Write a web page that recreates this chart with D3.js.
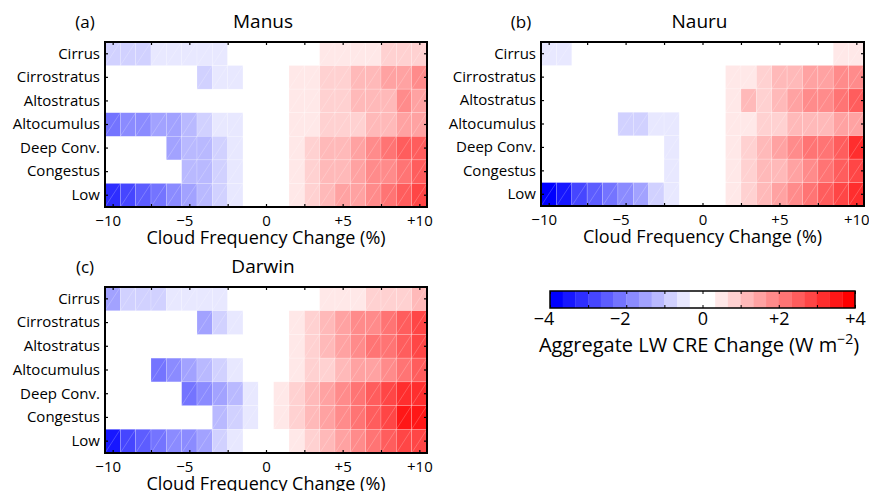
<!DOCTYPE html>
<html>
<head>
<meta charset="utf-8">
<script src="https://cdn.jsdelivr.net/npm/d3@7"></script>
<style>
  body { margin: 0; background: #fff; }
  text { font-family: "Open Sans", sans-serif; fill: #000; }
</style>
</head>
<body>
<div id="chart"></div>
<script>
'use strict';

// categories
const cloudTypes = ["Cirrus", "Cirrostratus", "Altostratus", "Altocumulus", "Deep Conv.", "Congestus", "Low"];
const freqChange = [-10, -9, -8, -7, -6, -5, -4, -3, -2, -1, 0, 1, 2, 3, 4, 5, 6, 7, 8, 9, 10];
const xTickValues = [-10, -7.5, -5, -2.5, 0, 2.5, 5, 7.5, 10];
const xTickLabels = { "-10": "\u221210", "-5": "\u22125", "0": "0", "5": "+5", "10": "+10" };
const cbarTickValues = [-4, -3, -2, -1, 0, 1, 2, 3, 4];
const cbarTickLabels = { "-4": "\u22124", "-2": "\u22122", "0": "0", "2": "+2", "4": "+4" };

// aggregate LW CRE change (W m-2), one row per cloud type, columns = freqChange; null = no data
const manusValues = [
    [-0.8, -0.8, -0.8, -0.5, -0.5, -0.5, -0.5, -0.5, -0.2, -0.1, 0, 0.1, 0.2, 0.2, 0.5, 0.5, 0.5, 0.5, 0.8, 0.8, 0.8],
    [null, null, null, null, null, null, -0.8, -0.5, -0.5, -0.2, 0, 0.2, 0.5, 0.5, 0.8, 0.8, 1.2, 1.2, 1.5, 1.5, 1.8],
    [null, null, null, null, null, null, null, null, null, null, 0.1, 0.2, 0.5, 0.5, 0.8, 0.8, 1.2, 1.2, 1.2, 1.8, 1.5],
    [-2.2, -1.8, -1.8, -1.5, -1.5, -1.2, -0.8, -0.5, -0.5, -0.2, 0, 0.2, 0.5, 0.5, 0.8, 0.8, 0.8, 1.2, 1.2, 1.5, 1.5],
    [null, null, null, null, -1.5, -1.2, -1.2, -0.8, -0.5, -0.2, 0, 0.2, 0.5, 0.8, 1.2, 1.2, 1.5, 1.8, 2.2, 2.5, 2.5],
    [null, null, null, null, null, -1.2, -1.2, -0.8, -0.5, -0.2, 0, 0.2, 0.5, 0.8, 1.2, 1.2, 1.5, 1.8, 1.8, 2.2, 2.5],
    [-3.2, -2.8, -2.5, -2.2, -1.8, -1.5, -1.2, -0.8, -0.5, -0.2, 0, 0.2, 0.5, 0.8, 1.2, 1.5, 1.5, 1.8, 2.2, 2.5, 2.8]
];
const nauruValues = [
    [-0.5, -0.5, null, null, null, null, null, null, -0.1, -0.1, 0, 0.1, 0.1, 0.1, 0.2, 0.2, 0.2, 0.2, 0.2, 0.5, 0.5],
    [null, null, null, null, null, null, null, null, null, -0.1, 0, 0.1, 0.5, 0.5, 0.8, 1.2, 1.2, 1.5, 1.5, 1.8, 1.8],
    [null, null, null, null, null, null, null, null, null, -0.1, 0, 0.1, 0.5, 1.2, 0.8, 1.2, 1.5, 1.8, 1.8, 2.2, 2.5],
    [null, null, null, null, null, -0.8, -0.8, -0.5, -0.5, -0.1, 0, 0.1, 0.5, 0.5, 0.8, 0.8, 1.2, 1.2, 1.2, 1.5, 1.5],
    [null, null, null, null, null, null, null, null, -0.5, -0.1, 0, 0.1, 0.5, 0.8, 1.2, 1.5, 1.8, 2.2, 2.2, 2.5, 3.2],
    [null, null, null, null, null, null, null, null, -0.5, -0.1, 0, 0.1, 0.5, 0.8, 1.2, 1.2, 1.5, 1.8, 2.2, 2.5, 2.8],
    [-3.8, -3.5, -2.8, -2.5, -2.2, -1.8, -1.5, -0.8, -0.5, -0.1, 0, 0.1, 0.5, 0.8, 1.2, 1.5, 1.8, 2.2, 2.5, 2.8, 3.2]
];
const darwinValues = [
    [-1.5, -0.8, -0.8, -0.8, -0.5, -0.5, -0.5, -0.5, -0.1, -0.1, 0, 0.1, 0.1, 0.2, 0.5, 0.5, 0.5, 0.8, 0.8, 0.8, 1.2],
    [null, null, null, null, null, null, -1.5, -0.8, -0.5, -0.1, 0, 0.1, 0.5, 0.8, 1.2, 1.5, 1.8, 1.8, 2.2, 2.5, 2.8],
    [null, null, null, null, null, null, null, null, null, null, 0, 0.1, 0.5, 0.8, 1.2, 1.5, 1.8, 2.2, 2.2, 2.5, 2.8],
    [null, null, null, -2.2, -1.8, -1.5, -1.2, -0.8, -0.5, -0.1, 0, 0.1, 0.5, 0.8, 0.8, 1.2, 1.5, 1.5, 1.8, 2.2, 2.5],
    [null, null, null, null, null, -2.2, -1.8, -1.5, -1.2, -0.5, 0, 0.5, 0.8, 1.2, 1.5, 1.8, 2.2, 2.5, 2.8, 3.2, 3.2],
    [null, null, null, null, null, null, null, -1.2, -0.8, -0.5, 0, 0.5, 0.8, 1.2, 1.5, 1.8, 2.2, 2.5, 2.8, 3.5, 3.5],
    [-3.5, -2.8, -2.5, -2.2, -1.8, -1.8, -1.5, -0.8, -0.5, -0.1, 0, 0.1, 0.5, 0.8, 1.2, 1.5, 1.8, 2.2, 2.5, 2.8, 2.8]
];

const width = 869, height = 491;

// font sizes (px)
const rowFont = 15, tickFont = 15, labelFont = 18, titleFont = 19;

const svg = d3.select("#chart")
    .append("svg")
    .attr("width", width)
    .attr("height", height);

// 24-step blue-white-red colour map from -4 to +4
const cmapColors = [];
for (let j = 0; j < 12; j++) {
    const t = Math.round(255 * j / 11);
    cmapColors.push(d3.rgb(t, t, 255).formatHex());
}
for (let j = 0; j < 12; j++) {
    const t = Math.round(255 * (11 - j) / 11);
    cmapColors.push(d3.rgb(255, t, t).formatHex());
}
const colorScale = d3.scaleQuantize().domain([-4, 4]).range(cmapColors);

// negative labels sit a little left of their tick in the original
const labelShift = v => (v < 0 ? -5 : 0);

function drawPanel(values, box, letter, title) {
    const g = svg.append("g");

    const x = d3.scaleLinear()
        .domain([-10.5, 10.5])
        .range([box.x, box.x + box.w]);
    const y = d3.scaleBand()
        .domain(cloudTypes)
        .range([box.y, box.y + box.h]);

    const cellW = x(1) - x(0);

    // cells
    const cells = [];
    values.forEach((row, r) => row.forEach((v, c) => {
        if (v !== null) cells.push({ type: cloudTypes[r], f: freqChange[c], v: v });
    }));

    g.selectAll(".cell")
        .data(cells)
        .enter()
        .append("rect")
        .attr("class", "cell")
        .attr("x", d => x(d.f - 0.5))
        .attr("y", d => y(d.type))
        .attr("width", cellW)
        .attr("height", y.bandwidth())
        .attr("fill", d => colorScale(d.v))
        .attr("stroke", "rgba(255,255,255,0.3)")
        .attr("stroke-width", 0.6);

    // faint diagonal seams of the original rendering
    g.selectAll(".seam")
        .data(cells.filter(d => Math.abs(d.v) > 1 / 3))
        .enter()
        .append("line")
        .attr("class", "seam")
        .attr("x1", d => x(d.f - 0.5))
        .attr("y1", d => y(d.type) + y.bandwidth())
        .attr("x2", d => x(d.f + 0.5))
        .attr("y2", d => y(d.type))
        .attr("stroke", "rgba(255,255,255,0.35)")
        .attr("stroke-width", 0.6);

    const fmt = v => xTickLabels[String(v)] || "";

    // bottom axis
    const xb = g.append("g")
        .attr("transform", `translate(0,${box.y + box.h})`)
        .call(d3.axisBottom(x).tickValues(xTickValues).tickFormat(fmt).tickSizeInner(-3).tickSizeOuter(0).tickPadding(8));
    xb.selectAll(".tick text").attr("dx", d => labelShift(d));
    // top axis (ticks only)
    const xt = g.append("g")
        .attr("transform", `translate(0,${box.y})`)
        .call(d3.axisTop(x).tickValues(xTickValues).tickFormat("").tickSizeInner(-3).tickSizeOuter(0));
    // left axis
    const yl = g.append("g")
        .attr("transform", `translate(${box.x},0)`)
        .call(d3.axisLeft(y).tickSizeInner(-3).tickSizeOuter(0).tickPadding(5));
    // right axis (ticks only)
    const yr = g.append("g")
        .attr("transform", `translate(${box.x + box.w},0)`)
        .call(d3.axisRight(y).tickFormat("").tickSizeInner(-3).tickSizeOuter(0));

    [xb, xt, yl, yr].forEach(a => {
        a.select(".domain").remove();
        a.selectAll(".tick line").attr("stroke", "#000").attr("stroke-width", 1.2);
        a.selectAll("text").attr("fill", "#000");
    });
    xb.selectAll("text").style("font-size", tickFont + "px");
    yl.selectAll("text").style("font-size", rowFont + "px");

    // frame
    g.append("rect")
        .attr("x", box.x)
        .attr("y", box.y)
        .attr("width", box.w)
        .attr("height", box.h)
        .attr("fill", "none")
        .attr("stroke", "#000")
        .attr("stroke-width", 2);

    // axis label
    g.append("text")
        .attr("x", box.x + box.w / 2)
        .attr("y", box.y + box.h + 37)
        .attr("text-anchor", "middle")
        .style("font-size", labelFont + "px")
        .text("Cloud Frequency Change (%)");

    // panel title
    g.append("text")
        .attr("x", box.x + box.w / 2 - 3)
        .attr("y", box.y - 14)
        .attr("text-anchor", "middle")
        .style("font-size", titleFont + "px")
        .text(title);
    g.append("text")
        .attr("x", box.x - 20)
        .attr("y", box.y - 14)
        .attr("text-anchor", "middle")
        .style("font-size", (titleFont - 2) + "px")
        .text(letter);
}

drawPanel(manusValues, { x: 105, y: 42, w: 322, h: 165 }, "(a)", "Manus");
drawPanel(nauruValues, { x: 541, y: 42, w: 323, h: 164 }, "(b)", "Nauru");
drawPanel(darwinValues, { x: 105, y: 287, w: 322, h: 166 }, "(c)", "Darwin");

// colour bar
const cb = { x: 550, y: 291, w: 305, h: 17 };
const cx = d3.scaleLinear().domain([-4, 4]).range([cb.x, cb.x + cb.w]);
const stepW = (cb.w) / cmapColors.length;
const cbar = svg.append("g");
cbar.selectAll(".cstep")
    .data(cmapColors)
    .enter()
    .append("rect")
    .attr("class", "cstep")
    .attr("x", (d, i) => cx(-4 + i / 3))
    .attr("y", cb.y)
    .attr("width", stepW + 0.3)
    .attr("height", cb.h)
    .attr("fill", d => d);

const cfmt = v => cbarTickLabels[String(v)] || "";
const cbAxis = cbar.append("g")
    .attr("transform", `translate(0,${cb.y + cb.h})`)
    .call(d3.axisBottom(cx).tickValues(cbarTickValues).tickFormat(cfmt).tickSizeInner(-3).tickSizeOuter(0).tickPadding(4));
cbAxis.selectAll(".tick text").attr("dx", d => labelShift(d) * 1.3);
const cbTop = cbar.append("g")
    .attr("transform", `translate(0,${cb.y})`)
    .call(d3.axisTop(cx).tickValues(cbarTickValues).tickFormat("").tickSizeInner(-3).tickSizeOuter(0));
[cbAxis, cbTop].forEach(a => {
    a.select(".domain").remove();
    a.selectAll(".tick line").attr("stroke", "#000").attr("stroke-width", 1);
    a.selectAll("text").style("font-size", "18px").attr("fill", "#000");
});
cbar.append("rect")
    .attr("x", cb.x)
    .attr("y", cb.y)
    .attr("width", cb.w)
    .attr("height", cb.h)
    .attr("fill", "none")
    .attr("stroke", "#000")
    .attr("stroke-width", 1.5);

const cbTitle = cbar.append("text")
    .attr("x", 699)
    .attr("y", 352)
    .attr("text-anchor", "middle")
    .style("font-size", "20px");
cbTitle.append("tspan").text("Aggregate LW CRE Change (W m");
cbTitle.append("tspan").attr("dy", -8).style("font-size", "14px").text("\u22122");
cbTitle.append("tspan").attr("dy", 8).text(")");
</script>
</body>
</html>
